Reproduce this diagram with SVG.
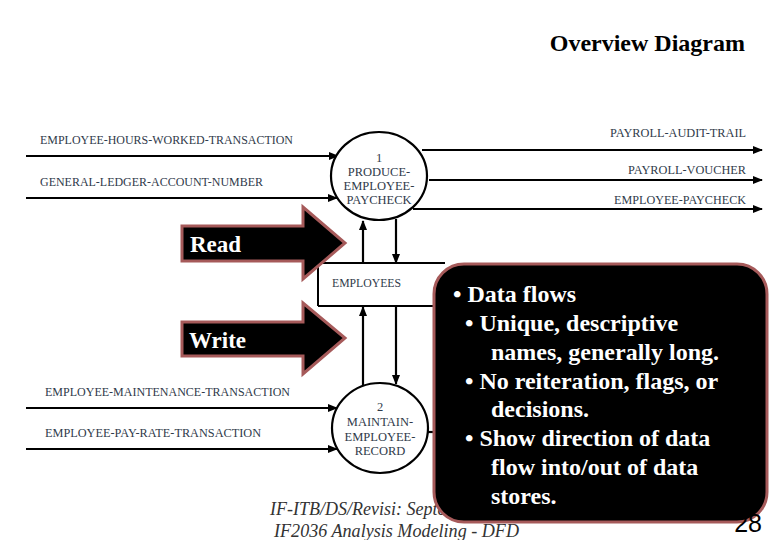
<svg xmlns="http://www.w3.org/2000/svg" width="780" height="540" viewBox="0 0 780 540">
<style>
text{font-family:"Liberation Serif","Tinos","Times New Roman","DejaVu Serif","Noto Serif",serif}
.lbl{font-size:12px;fill:#2f3a4a}
.proc{font-size:12.5px;fill:#2f3a4a;text-anchor:middle}
.flow{stroke:#000;stroke-width:2.2;fill:none}
.bigarrow{fill:#000;stroke:#a65a5a;stroke-width:3;stroke-linejoin:miter}
.bigtxt{font-size:23px;font-weight:bold;fill:#fff}
.call{font-size:24px;font-weight:bold;fill:#fff}
.foot{font-size:18px;font-style:italic;fill:#333}
.title{font-size:24px;font-weight:bold;fill:#000;text-anchor:end}
.num{font-family:"Liberation Sans",Arial,sans-serif;font-size:25px;fill:#000;text-anchor:end}
</style>
<defs>
<marker id="ah" markerWidth="10" markerHeight="8" refX="9" refY="4" orient="auto" markerUnits="userSpaceOnUse">
<path d="M0,0 L10,4 L0,8 Z" fill="#000"/>
</marker>
</defs>
<rect width="780" height="540" fill="#fff"/>
<text class="title" x="745" y="51">Overview Diagram</text>

<g id="connectors">
<line class="flow" x1="26" y1="156" x2="338" y2="156" marker-end="url(#ah)"/>
<line class="flow" x1="26" y1="198" x2="337" y2="198" marker-end="url(#ah)"/>
<line class="flow" x1="422" y1="150" x2="762" y2="150" marker-end="url(#ah)"/>
<line class="flow" x1="429" y1="180" x2="762" y2="180" marker-end="url(#ah)"/>
<line class="flow" x1="413" y1="209" x2="762" y2="209" marker-end="url(#ah)"/>
<line class="flow" x1="363" y1="263" x2="363" y2="221" marker-end="url(#ah)"/>
<line class="flow" x1="396" y1="219" x2="396" y2="263" marker-end="url(#ah)"/>
<line class="flow" x1="363" y1="385" x2="363" y2="307" marker-end="url(#ah)"/>
<line class="flow" x1="396" y1="307" x2="396" y2="384" marker-end="url(#ah)"/>
<line class="flow" x1="26" y1="408" x2="337" y2="408" marker-end="url(#ah)"/>
<line class="flow" x1="26" y1="449" x2="337" y2="449" marker-end="url(#ah)"/>
<line class="flow" x1="428" y1="432" x2="445" y2="432"/>
<text class="lbl" x="40" y="144" textLength="253" lengthAdjust="spacingAndGlyphs">EMPLOYEE-HOURS-WORKED-TRANSACTION</text>
<text class="lbl" x="40" y="186" textLength="223" lengthAdjust="spacingAndGlyphs">GENERAL-LEDGER-ACCOUNT-NUMBER</text>
<text class="lbl" x="610" y="137" textLength="136" lengthAdjust="spacingAndGlyphs">PAYROLL-AUDIT-TRAIL</text>
<text class="lbl" x="628" y="174" textLength="118" lengthAdjust="spacingAndGlyphs">PAYROLL-VOUCHER</text>
<text class="lbl" x="614" y="204" textLength="132" lengthAdjust="spacingAndGlyphs">EMPLOYEE-PAYCHECK</text>
<text class="lbl" x="45" y="396" textLength="245" lengthAdjust="spacingAndGlyphs">EMPLOYEE-MAINTENANCE-TRANSACTION</text>
<text class="lbl" x="45" y="437" textLength="216" lengthAdjust="spacingAndGlyphs">EMPLOYEE-PAY-RATE-TRANSACTION</text>
</g>

<g id="p1">
<ellipse cx="379" cy="176" rx="48" ry="44" fill="#fff" stroke="#000" stroke-width="2.2"/>
<text class="proc" x="379" y="162">1</text>
<text class="proc" x="379" y="176">PRODUCE-</text>
<text class="proc" x="379" y="190">EMPLOYEE-</text>
<text class="proc" x="379" y="204">PAYCHECK</text>
</g>

<g id="store">
<line x1="318" y1="263" x2="445" y2="263" stroke="#000" stroke-width="2.2"/>
<line x1="318" y1="306" x2="445" y2="306" stroke="#000" stroke-width="2.2"/>
<line x1="318" y1="263" x2="318" y2="306" stroke="#000" stroke-width="2"/>
<text class="lbl" x="332" y="287" textLength="69" lengthAdjust="spacingAndGlyphs">EMPLOYEES</text>
</g>

<g id="p2">
<ellipse cx="380" cy="428" rx="48" ry="45" fill="#fff" stroke="#000" stroke-width="2.2"/>
<text class="proc" x="380" y="411">2</text>
<text class="proc" x="380" y="426">MAINTAIN-</text>
<text class="proc" x="380" y="441">EMPLOYEE-</text>
<text class="proc" x="380" y="455">RECORD</text>
</g>

<g id="read">
<path class="bigarrow" d="M182,226 L303,226 L303,207 L345,243 L303,279 L303,261 L182,261 Z"/>
<text class="bigtxt" x="190" y="252">Read</text>
</g>

<g id="write">
<path class="bigarrow" d="M182,322 L303,322 L303,303 L345,338 L303,374 L303,356 L182,356 Z"/>
<text class="bigtxt" x="189" y="348">Write</text>
</g>

<g id="footer">
<text class="foot" x="270" y="515">IF-ITB/DS/Revisi: Septe</text>
<text class="foot" x="274" y="537" textLength="245" lengthAdjust="spacingAndGlyphs">IF2036 Analysis Modeling - DFD</text>
</g>

<g id="callout">
<rect x="434" y="264" width="333" height="258" rx="30" ry="30" fill="#000" stroke="#a65a5a" stroke-width="3"/>
<text class="call" x="453" y="302">• Data flows</text>
<text class="call" x="465" y="331">• Unique, descriptive</text>
<text class="call" x="491" y="360">names, generally long.</text>
<text class="call" x="465" y="389">• No reiteration, flags, or</text>
<text class="call" x="491" y="417">decisions.</text>
<text class="call" x="465" y="446">• Show direction of data</text>
<text class="call" x="491" y="475">flow into/out of data</text>
<text class="call" x="491" y="504">stores.</text>
</g>

<text class="num" x="762" y="532">28</text>
</svg>
